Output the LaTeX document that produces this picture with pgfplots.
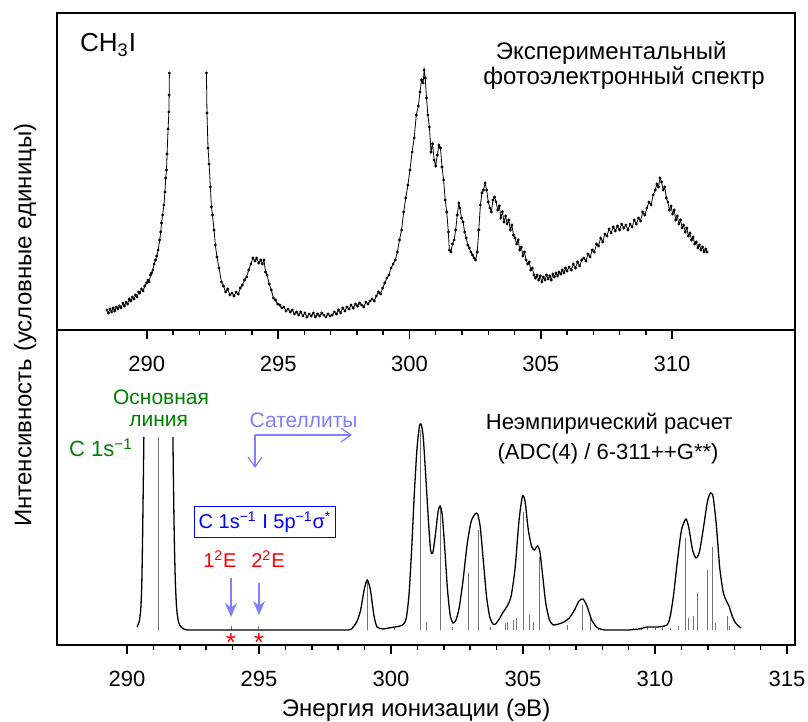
\documentclass[border=0pt]{standalone}
\usepackage{fontspec}
\setmainfont{Liberation Sans}
\usepackage{pgfplots}
\pgfplotsset{compat=1.18}
\usetikzlibrary{arrows.meta}
\definecolor{lineGreen}{RGB}{0,128,0}
\definecolor{satBlue}{RGB}{128,128,255}
\definecolor{boxBlue}{RGB}{0,0,255}
\definecolor{starRed}{RGB}{255,0,0}
\newcommand{\fs}[1]{\fontsize{#1}{#1}\selectfont}

\pgfplotsset{
  specax/.style={
    scale only axis, width=369pt,
    axis line style={line width=0.75pt},
    minor x tick num=4,
    xtick pos=lower, ytick=\empty,
    tick align=outside,
    major tick length=4.5pt, minor tick length=2.5pt,
    every tick/.style={line width=0.75pt, black},
    ticklabel style={font=\fs{11pt}},
    /pgf/number format/assume math mode=true,
    clip=false,
  },
}

\begin{document}
\begin{tikzpicture}
\path[use as bounding box] (-28.5pt,-38.5pt) rectangle (375.5pt,322.5pt);

% ---- experimental spectrum ----
\begin{axis}[specax, at={(0,157.5pt)}, height=158.5pt,
  xmin=286.58, xmax=314.68, ymin=0, ymax=317,
  xtick={290,295,...,310}, xticklabel style={yshift=-5pt}]
\addplot[black, line width=0.4pt, mark=*, mark size=0.5pt] coordinates {
(288.48,20) (288.54,17) (288.60,21) (288.66,18) (288.72,22) (288.78,19)
(288.84,23) (288.90,21) (288.96,24) (289.02,22) (289.09,27) (289.15,24)
(289.21,28) (289.27,26) (289.33,31) (289.39,29) (289.45,33) (289.51,31)
(289.57,35) (289.63,33) (289.69,38) (289.73,37) (289.80,41) (289.86,39)
(289.92,44) (289.99,47) (290.04,50) (290.09,48) (290.14,55) (290.18,57)
(290.23,60) (290.28,66) (290.33,70) (290.38,74) (290.43,80) (290.49,90)
(290.53,98) (290.56,107) (290.60,115) (290.65,125) (290.69,138) (290.72,152)
(290.75,160) (290.77,176) (290.81,201) (290.84,218) (290.85,235) (290.86,257)
};
\addplot[black, line width=0.4pt, mark=*, mark size=0.5pt] coordinates {
(292.27,257) (292.29,217) (292.33,182) (292.37,166) (292.42,143) (292.46,123)
(292.50,115) (292.56,100) (292.61,85) (292.67,73) (292.75,62) (292.84,48)
(292.92,44) (293.00,38) (293.08,41) (293.16,35) (293.24,37) (293.32,34)
(293.40,38) (293.48,36) (293.56,42) (293.64,45) (293.72,50) (293.80,53)
(293.88,60) (293.96,66) (294.04,72) (294.12,69) (294.18,72) (294.26,67)
(294.34,70) (294.40,66) (294.46,70) (294.52,58) (294.58,55) (294.66,46)
(294.74,40) (294.82,32) (294.90,30) (294.98,26) (295.06,25) (295.14,22)
(295.22,23) (295.30,19) (295.38,21) (295.46,18) (295.54,20) (295.62,16)
(295.70,18) (295.78,15) (295.86,18) (295.94,14) (296.02,17) (296.10,13)
(296.18,16) (296.26,14) (296.34,17) (296.42,13) (296.50,16) (296.58,14)
(296.66,17) (296.74,15) (296.82,13) (296.90,16) (296.98,14) (297.06,15)
(297.14,18) (297.22,16) (297.30,20) (297.38,17) (297.46,22) (297.54,19)
(297.62,23) (297.70,21) (297.78,25) (297.86,22) (297.94,26) (298.02,24)
(298.10,27) (298.18,25) (298.26,23) (298.34,28) (298.42,26) (298.50,29)
(298.58,31) (298.66,29) (298.74,34) (298.82,38) (298.90,36) (298.98,42)
(299.06,47) (299.14,52) (299.22,55) (299.30,62) (299.38,66) (299.46,70)
(299.54,78) (299.62,90) (299.70,100) (299.78,118) (299.86,132) (299.94,145)
(300.02,160) (300.10,178) (300.18,192) (300.26,215) (300.34,224) (300.40,238)
(300.46,250) (300.52,247) (300.56,260) (300.60,252) (300.65,232) (300.70,215)
(300.76,203) (300.82,178) (300.88,186) (300.94,170) (301.00,164) (301.06,175)
(301.12,185) (301.18,182) (301.24,163) (301.30,150) (301.36,130) (301.42,118)
(301.48,98) (301.52,80) (301.58,78) (301.64,86) (301.70,90) (301.76,100)
(301.82,115) (301.88,127) (301.92,122) (301.98,112) (302.04,108) (302.10,98)
(302.16,92) (302.22,85) (302.28,82) (302.34,78) (302.40,75) (302.46,72)
(302.52,70) (302.58,78) (302.64,100) (302.70,125) (302.76,137) (302.82,140)
(302.88,147) (302.94,140) (303.00,128) (303.06,122) (303.12,118) (303.18,130)
(303.24,133) (303.30,128) (303.36,120) (303.42,124) (303.48,112) (303.54,118)
(303.60,108) (303.66,114) (303.72,106) (303.78,110) (303.84,100) (303.90,105)
(303.96,95) (304.02,92) (304.08,86) (304.14,90) (304.20,80) (304.26,83)
(304.32,74) (304.38,78) (304.44,70) (304.50,66) (304.56,68) (304.62,60)
(304.68,62) (304.74,55) (304.80,52) (304.86,55) (304.92,50) (304.98,54)
(305.04,48) (305.10,53) (305.16,50) (305.22,55) (305.28,51) (305.34,54)
(305.40,50) (305.46,56) (305.52,53) (305.58,57) (305.64,54) (305.70,58)
(305.76,56) (305.82,60) (305.88,57) (305.94,62) (306.00,59) (306.08,63)
(306.16,60) (306.24,66) (306.32,62) (306.40,68) (306.48,64) (306.56,70)
(306.64,72) (306.72,69) (306.80,76) (306.88,73) (306.96,80) (307.04,78)
(307.12,86) (307.20,84) (307.28,92) (307.36,88) (307.44,96) (307.52,94)
(307.60,101) (307.68,97) (307.76,103) (307.84,99) (307.92,104) (308.00,100)
(308.08,106) (308.16,102) (308.24,105) (308.32,100) (308.40,106) (308.48,103)
(308.56,110) (308.64,106) (308.72,112) (308.80,109) (308.88,118) (308.96,115)
(309.04,122) (309.12,128) (309.20,125) (309.28,135) (309.36,140) (309.42,146)
(309.48,143) (309.54,152) (309.60,148) (309.66,140) (309.72,143) (309.78,132)
(309.84,128) (309.90,120) (309.96,124) (310.02,116) (310.08,120) (310.14,110)
(310.20,114) (310.26,106) (310.32,110) (310.38,102) (310.44,105) (310.50,98)
(310.56,102) (310.62,94) (310.68,97) (310.74,90) (310.80,93) (310.86,86)
(310.92,88) (310.98,82) (311.04,85) (311.10,80) (311.16,83) (311.22,78)
(311.28,81) (311.33,78)
};
\node[anchor=base west, font=\fs{13pt}] at (axis cs:287.19,278) {CH\textsubscript{3}I};
\node[anchor=base, font=\fs{12pt}] at (axis cs:307.68,270) {Экспериментальный};
\node[anchor=base, font=\fs{12pt}] at (axis cs:308.17,245) {фотоэлектронный спектр};
\end{axis}

% ---- calculated spectrum ----
\begin{axis}[specax, at={(0,0)}, height=157.5pt,
  xmin=287.35, xmax=315.3, ymin=-15, ymax=300,
  xtick={290,295,...,315}, xticklabel style={yshift=-5pt}]
\addplot[black!55, line width=0.5pt, ycomb, no marks] coordinates {
(291.21,193) (293.94,4) (295.00,4) (299.10,50) (300.15,3) (301.12,200)
(301.36,8) (301.86,123) (302.31,3) (302.94,57) (303.33,100) (303.75,3)
(304.32,7) (304.43,8) (304.62,10) (304.74,12) (305.00,118) (305.24,15)
(305.40,8) (305.64,73) (306.70,5) (307.25,25) (307.56,12) (307.85,2)
(309.20,2) (309.50,2) (309.72,3) (310.00,2) (310.30,3) (310.60,2)
(310.87,4) (311.14,92) (311.26,12) (311.44,14) (311.59,37) (311.97,60)
(312.17,83) (312.27,7) (312.73,14) (312.80,4)
};
\addplot[black, line width=0.65pt, smooth, tension=0.4] coordinates {
(290.38,3) (290.46,8) (290.52,20) (290.56,45) (290.59,90) (290.62,150) (290.64,193)
};
\addplot[black, line width=0.65pt, smooth, tension=0.4] coordinates {
(291.74,193) (291.76,150) (291.79,95) (291.83,50) (291.88,22) (291.95,8)
(292.05,3) (292.15,1) (292.30,0) (292.50,0) (293.00,0) (294.00,0) (295.00,0)
(296.00,0) (297.00,0) (298.00,0) (298.20,0) (298.35,0) (298.50,1) (298.70,8) (298.85,20)
(298.98,40) (299.10,50) (299.22,40) (299.35,15) (299.47,3) (299.70,1)
(299.90,2) (300.15,3) (300.35,4) (300.48,6) (300.58,12) (300.68,35)
(300.78,80) (300.88,135) (300.98,180) (301.07,203) (301.14,206) (301.22,193)
(301.32,152) (301.42,108) (301.50,80) (301.58,77) (301.68,95) (301.78,118)
(301.86,124) (301.94,115) (302.04,80) (302.14,40) (302.24,15) (302.35,7)
(302.46,10) (302.58,22) (302.72,48) (302.88,85) (303.03,108) (303.18,116)
(303.28,116) (303.38,103) (303.50,68) (303.62,33) (303.74,13) (303.86,6)
(303.96,6) (304.10,11) (304.25,18) (304.40,24) (304.55,34) (304.70,62)
(304.85,110) (304.98,134) (305.08,128) (305.20,100) (305.32,84) (305.42,80)
(305.55,84) (305.64,78) (305.74,55) (305.86,27) (306.00,10) (306.15,5)
(306.35,6) (306.55,8) (306.75,12) (306.95,20) (307.12,29) (307.27,31)
(307.42,24) (307.60,10) (307.78,3) (307.92,1) (308.10,0) (308.40,0)
(308.70,0) (309.00,0) (309.20,0.5) (309.40,1)
(309.70,3) (310.10,3) (310.45,5) (310.57,13) (310.70,35) (310.85,70)
(311.00,100) (311.17,111) (311.28,102) (311.42,80) (311.55,72) (311.68,78)
(311.82,100) (311.98,128) (312.10,137) (312.20,133) (312.32,105) (312.45,62)
(312.58,38) (312.70,29) (312.80,24) (312.92,14) (313.05,7) (313.25,2)
};
% labels
\node[anchor=base, text=lineGreen, font=\fs{10.5pt}] at (axis cs:291.29,225) {Основная};
\node[anchor=base, text=lineGreen, font=\fs{10.5pt}] at (axis cs:291.20,203) {линия};
\node[anchor=base, text=lineGreen, font=\fs{11pt}] at (axis cs:289.02,173) {C 1s\textsuperscript{−1}};
\node[anchor=base, text=satBlue, font=\fs{10.5pt}] at (axis cs:296.69,202) {Сателлиты};
\draw[satBlue, line width=0.6pt, -{Straight Barb[length=5pt,width=7pt]}]
  (axis cs:294.85,195) -- (axis cs:298.52,195);
\draw[satBlue, line width=0.6pt, -{Straight Barb[length=5pt,width=7pt]}]
  (axis cs:294.85,195) -- (axis cs:294.85,162);
\node[anchor=base, font=\fs{11pt}] at (axis cs:308.26,200) {Неэмпирический расчет};
\node[anchor=base, font=\fs{11pt}] at (axis cs:308.22,170) {(ADC(4) / 6-311++G**)};
\node[draw=boxBlue, text=boxBlue, line width=0.6pt, font=\fs{10pt},
  minimum width=66.5pt, minimum height=15.5pt, inner sep=2pt]
  at (axis cs:295.23,108) {C 1s\textsuperscript{−1} I 5p\textsuperscript{−1}σ\textsuperscript{*}};
\node[anchor=base, text=starRed, font=\fs{10pt}] at (axis cs:293.52,62) {1\textsuperscript{2}E};
\node[anchor=base, text=starRed, font=\fs{10pt}] at (axis cs:295.34,62) {2\textsuperscript{2}E};
\draw[satBlue, line width=0.7pt, -{Stealth[length=7pt,width=6pt]}]
  (axis cs:293.94,52) -- (axis cs:293.94,13);
\draw[satBlue, line width=0.7pt, -{Stealth[length=7pt,width=6pt]}]
  (axis cs:295.00,47) -- (axis cs:295.00,15);
\node[anchor=base, text=starRed, font=\fs{13pt}] at (axis cs:293.94,-22) {*};
\node[anchor=base, text=starRed, font=\fs{13pt}] at (axis cs:295.00,-22) {*};
% axis titles
\node[anchor=base, font=\fs{12pt}] at (axis cs:300.95,-86) {Энергия ионизации (эВ)};
\node[rotate=90, font=\fs{12pt}] at (axis cs:286.14,305) {Интенсивность (условные единицы)};
\end{axis}
\end{tikzpicture}
\end{document}
